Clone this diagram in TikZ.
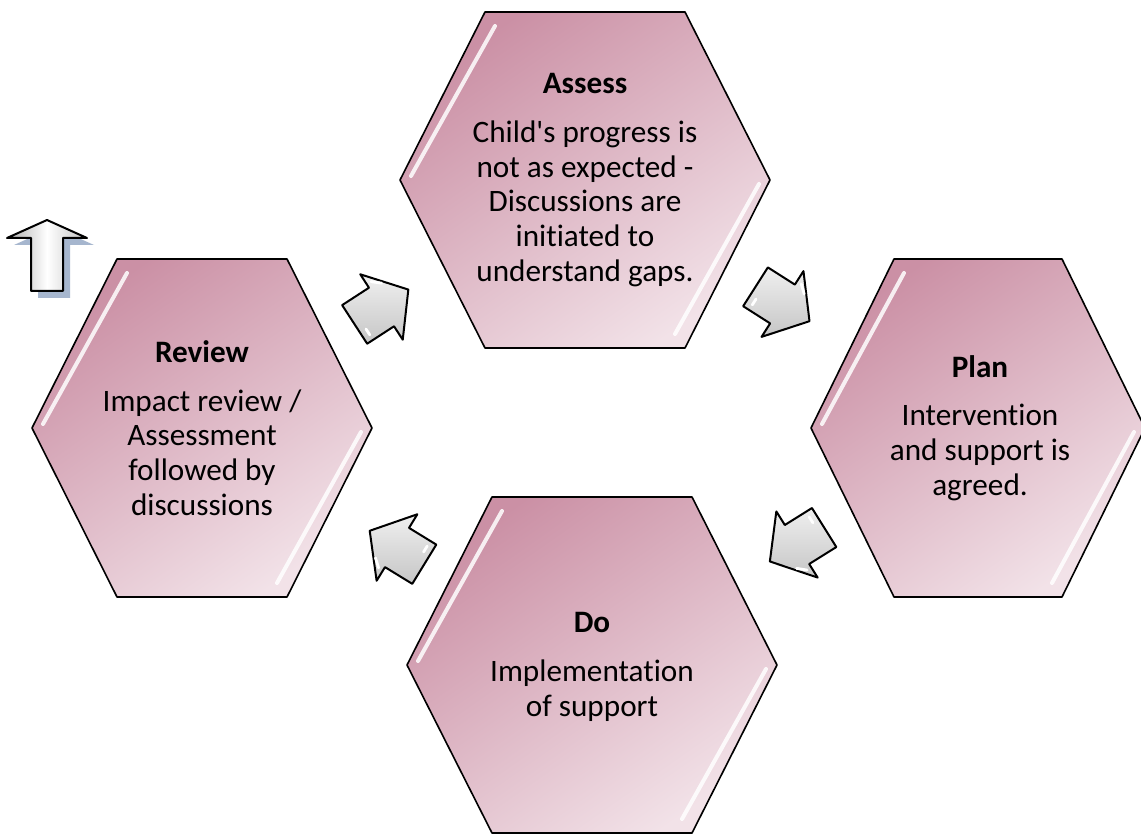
\documentclass[tikz,border=0pt]{standalone}
\usepackage{fontspec}
\setmainfont{Carlito}[Ligatures={NoCommon}]
\usetikzlibrary{calc}

\definecolor{hexdark}{RGB}{203,144,165}
\definecolor{hexlight}{RGB}{242,226,232}
\definecolor{shadowblue}{RGB}{166,182,206}

\tikzset{
  cycletext/.style={align=center, inner sep=0pt, font=\fontsize{15.6}{17.4}\selectfont},
  glint/.style={white, line width=2pt, line cap=round, opacity=.85},
  cyclearrow/.pic={
    \shade[draw=black, line width=1pt, line join=round, top color=gray!12, bottom color=gray!45]
      (-32,-23) -- (0,-23) -- (0,-39) -- (32,0) -- (0,39) -- (0,23) -- (-32,23) -- cycle;
    \draw[white, line width=1.4pt, line cap=round] (-25,10) -- (-25,17);
    \draw[white, line width=1.4pt, line cap=round] (5,-27) -- (13,-20);
  },
}

\begin{document}
\begin{tikzpicture}[x=0.5pt, y=-0.5pt]
	\useasboundingbox (0,0) rectangle (1141,834);
	\fill[white] (0,0) rectangle (1141,834);
	% hexagons: centre x, centre y, half width, half top edge, half height
	\foreach \mx/\my/\sx/\tx/\sy in {585/180/185/100/168, 978/428/167/84/169, 592/665/185/100/168, 202/428/170/85/169}{
		\shade[top color=hexdark, bottom color=hexlight, shading angle=35, draw=black, line width=0.8pt, line join=round]
			(\mx-\tx,\my-\sy) -- (\mx+\tx,\my-\sy) -- (\mx+\sx,\my) -- (\mx+\tx,\my+\sy) -- (\mx-\tx,\my+\sy) -- (\mx-\sx,\my) -- cycle;
		\draw[glint] (\mx-\tx+10,\my-\sy+14) -- (\mx-\sx+11,\my-4);
		\draw[glint] (\mx+\sx-11,\my+4) -- (\mx+\tx-10,\my+\sy-14);
	}
	% texts
	\node[cycletext] (assess) at (585,180) {\textbf{Assess}\\[7pt] Child\textquotesingle s progress is\\ not as expected -\\ Discussions are\\ initiated to\\ understand gaps.};
	\node[cycletext] (plan) at (980,428) {\textbf{Plan}\\[7pt] Intervention\\ and support is\\ agreed.};
	\node[cycletext] (do) at (592,667) {\textbf{Do}\\[7pt] Implementation\\ of support};
	\node[cycletext] (review) at (202,428) {\textbf{Review}\\[7pt] Impact review /\\ Assessment\\ followed by\\ discussions};
	% arrows between the steps
	\pic[rotate=33] at ($(review)!.5!(assess)+(-12,3)$) {cyclearrow};
	\pic[rotate=-32.5] at ($(assess)!.5!(plan)$) {cyclearrow};
	\pic[rotate=212] at ($(plan)!.5!(do)+(11,-3)$) {cyclearrow};
	\pic[rotate=148.5] at ($(do)!.5!(review)$) {cyclearrow};
	% up arrow
	\fill[shadowblue, shift={(7,7)}] (47,220) -- (87,238) -- (63,238) -- (63,291) -- (31,291) -- (31,238) -- (7,238) -- cycle;
	\shade[left color=gray!65, right color=gray!50, middle color=white, draw=black, line width=1pt, line join=round]
		(47,220) -- (87,238) -- (63,238) -- (63,291) -- (31,291) -- (31,238) -- (7,238) -- cycle;
\end{tikzpicture}
\end{document}
